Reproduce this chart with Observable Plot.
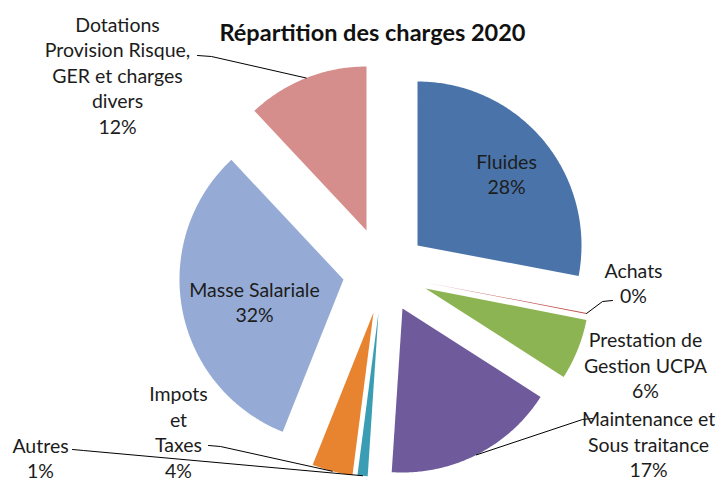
<!DOCTYPE html>
<html><head><meta charset="utf-8">
<script src="https://cdn.jsdelivr.net/npm/d3@7"></script>
<script src="https://cdn.jsdelivr.net/npm/@observablehq/plot@0.6"></script>
<style>body{margin:0;background:#fff;}</style>
</head><body><div id="chart"></div>
<script>
// ---- data ----
const chartTitle = "Répartition des charges 2020";
const categories = ["Fluides", "Achats", "Prestation de\nGestion UCPA", "Maintenance et\nSous traitance", "Autres", "Impots\net\nTaxes", "Masse Salariale", "Dotations\nProvision Risque,\nGER et charges\ndivers"];
const values = [28, 0.1, 6, 17, 1, 4, 32, 12];
const colors = ["#4a74a9", "#c0504d", "#8cb453", "#6f5a9c", "#3a9db3", "#e8842f", "#95abd5", "#d68e8c"];

// ---- layout ----
const W = 717, H = 481, cx = 384, cy = 276, R = 164;
const explode = [[33, -31], [41, 6], [41, 12], [18, 32], [-6, 36], [-11, 36], [-41, 3], [-18, -46]];
const labelAt = [[506, 173], [633, 282], [645, 364], [648, 443], [40, 457], [178, 431], [254, 301], [117, 74]];
const leaderFrom = [null, [[612, 300], [602, 301]], null, [[592, 418], [582, 419]], [[72, 449], [83, 450]], [[208, 445], [220, 446]], null, [[197, 55], [211, 56]]];

const total = d3.sum(values);
const pie = d3.pie().sort(null).value(d => d)(values);
const slices = categories.map((c, i) => ({
  name: c, value: values[i], a0: pie[i].startAngle, a1: pie[i].endAngle,
  ox: cx + explode[i][0], oy: cy + explode[i][1]
}));
const pt = (s, a) => [s.ox + R * Math.sin(a), s.oy - R * Math.cos(a)];

const polys = [];
slices.forEach(s => {
  polys.push({name: s.name, x: s.ox, y: s.oy});
  const n = Math.max(2, Math.ceil((s.a1 - s.a0) / 0.01));
  for (let k = 0; k <= n; k++) {
    const [x, y] = pt(s, s.a0 + (s.a1 - s.a0) * k / n);
    polys.push({name: s.name, x, y});
  }
});

const leaders = [];
slices.forEach((s, i) => {
  if (!leaderFrom[i]) return;
  leaderFrom[i].forEach(([x, y]) => leaders.push({name: s.name, x, y}));
  const [x, y] = pt(s, (s.a0 + s.a1) / 2);
  leaders.push({name: s.name, x, y});
});

const labels = slices.map((s, i) => ({
  text: s.name + "\n" + Math.round(s.value / total * 100) + "%",
  x: labelAt[i][0], y: labelAt[i][1]
}));

const chart = Plot.plot({
  width: W, height: H, margin: 0,
  x: {domain: [0, W], range: [0, W], axis: null},
  y: {domain: [0, H], range: [0, H], axis: null},
  color: {domain: categories, range: colors},
  style: {fontFamily: "Lato, 'Open Sans', sans-serif", background: "#fff"},
  marks: [
    Plot.line(polys, {x: "x", y: "y", z: "name", fill: "name", stroke: "none", curve: "linear-closed"}),
    Plot.line(leaders, {x: "x", y: "y", z: "name", stroke: "#000", strokeWidth: 1}),
    Plot.text(labels, {x: "x", y: "y", text: "text", fontSize: 19.5, lineHeight: 1.31, fill: "#1c1c1c", textAnchor: "middle"}),
    Plot.text([chartTitle], {x: () => 372, y: () => 33, text: d => d, fontSize: 23.5, fontWeight: "bold", fill: "#111"})
  ]
});
document.getElementById("chart").appendChild(chart);
</script>
</body></html>
